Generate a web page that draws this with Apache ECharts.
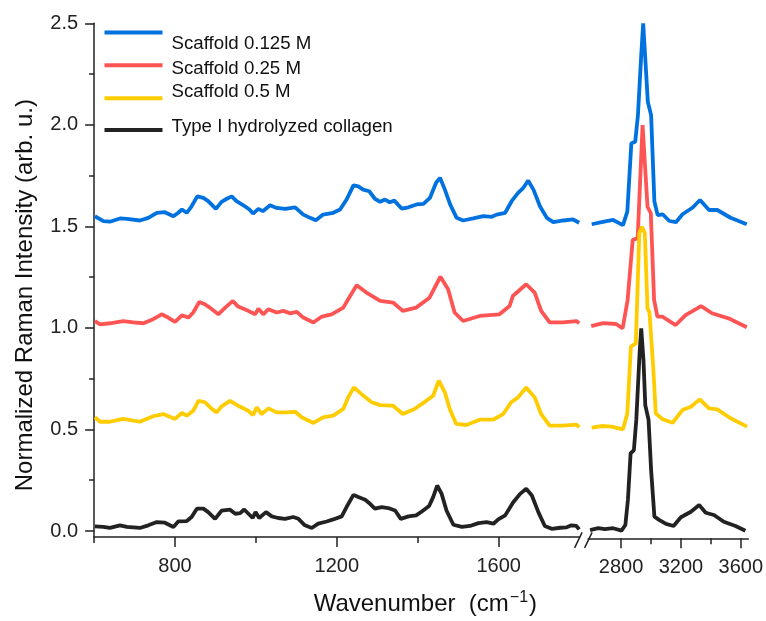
<!DOCTYPE html>
<html><head><meta charset="utf-8">
<script src="https://cdn.jsdelivr.net/npm/echarts@6/dist/echarts.min.js"></script>
<style>html,body{margin:0;padding:0;background:#fff}#c{width:766px;height:621px}</style>
</head><body><div id="c"></div>
<script>
// ---------- data ----------
const seriesNames = ['Scaffold 0.125 M', 'Scaffold 0.25 M', 'Scaffold 0.5 M', 'Type I hydrolyzed collagen'];
const yMajorTicks = [0, 0.5, 1, 1.5, 2, 2.5];
const yMinorTicks = [0.25, 0.75, 1.25, 1.75, 2.25];
const xLeftMajorTicks = [800, 1200, 1600];
const xLeftMinorTicks = [600, 1000, 1400];
const xRightMajorTicks = [2800, 3200, 3600];
const xRightMinorTicks = [3000, 3400];

const blueLeft = [[602,1.550],[623,1.526],[639,1.523],[664,1.539],[681,1.537],[713,1.529],[734,1.542],[755,1.567],[775,1.570],[796,1.550],[808,1.567],[817,1.583],[829,1.567],[841,1.599],[855,1.648],[870,1.640],[882,1.624],[901,1.586],[915,1.621],[928,1.636],[940,1.648],[952,1.624],[969,1.604],[984,1.583],[993,1.563],[1006,1.586],[1017,1.575],[1035,1.604],[1051,1.591],[1072,1.586],[1097,1.594],[1117,1.558],[1134,1.542],[1148,1.530],[1166,1.558],[1191,1.567],[1208,1.583],[1224,1.632],[1241,1.702],[1253,1.697],[1265,1.681],[1280,1.673],[1294,1.636],[1307,1.621],[1319,1.632],[1331,1.619],[1342,1.627],[1360,1.588],[1377,1.594],[1397,1.608],[1414,1.611],[1430,1.640],[1445,1.714],[1455,1.739],[1467,1.681],[1480,1.608],[1496,1.542],[1512,1.529],[1537,1.539],[1562,1.550],[1583,1.547],[1595,1.558],[1616,1.567],[1632,1.624],[1648,1.665],[1661,1.690],[1673,1.725],[1686,1.681],[1702,1.599],[1719,1.542],[1735,1.521],[1760,1.529],[1784,1.534],[1799,1.518]];
const blueRight = [[2604,1.513],[2670,1.523],[2747,1.534],[2813,1.509],[2842,1.575],[2869,1.911],[2895,1.918],[2913,2.049],[2935,2.344],[2948,2.500],[2962,2.328],[2979,2.115],[3001,2.049],[3023,1.624],[3045,1.558],[3078,1.562],[3123,1.529],[3167,1.523],[3211,1.562],[3277,1.594],[3328,1.632],[3388,1.583],[3443,1.583],[3532,1.545],[3640,1.513]];

const redLeft = [[602,1.034],[615,1.018],[639,1.023],[672,1.034],[697,1.027],[722,1.023],[746,1.043],[767,1.067],[783,1.051],[800,1.030],[817,1.062],[833,1.051],[845,1.076],[860,1.128],[874,1.116],[886,1.100],[907,1.067],[924,1.100],[943,1.133],[956,1.105],[981,1.084],[998,1.067],[1006,1.095],[1018,1.067],[1031,1.092],[1051,1.076],[1068,1.084],[1084,1.072],[1101,1.079],[1117,1.051],[1142,1.027],[1163,1.056],[1187,1.067],[1216,1.100],[1228,1.141],[1249,1.210],[1273,1.174],[1307,1.133],[1339,1.125],[1363,1.084],[1396,1.100],[1429,1.149],[1456,1.252],[1475,1.190],[1491,1.076],[1512,1.034],[1553,1.059],[1602,1.067],[1627,1.108],[1635,1.157],[1668,1.215],[1689,1.174],[1705,1.084],[1726,1.027],[1759,1.027],[1792,1.034],[1799,1.023]];
const redRight = [[2601,1.013],[2679,1.027],[2767,1.023],[2811,1.002],[2844,1.141],[2878,1.436],[2911,1.444],[2944,2.000],[2977,1.599],[2999,1.567],[3021,1.141],[3043,1.059],[3076,1.059],[3165,1.018],[3231,1.067],[3335,1.111],[3408,1.076],[3518,1.051],[3640,1.007]];

const yellowLeft = [[602,0.560],[615,0.538],[639,0.538],[672,0.552],[713,0.538],[746,0.565],[771,0.576],[800,0.552],[817,0.581],[829,0.568],[845,0.592],[858,0.641],[874,0.634],[891,0.601],[903,0.584],[915,0.614],[936,0.641],[956,0.617],[981,0.592],[993,0.571],[1002,0.609],[1014,0.576],[1031,0.604],[1051,0.584],[1076,0.584],[1097,0.587],[1113,0.560],[1142,0.532],[1166,0.560],[1191,0.568],[1216,0.601],[1228,0.658],[1242,0.707],[1261,0.674],[1286,0.634],[1307,0.620],[1339,0.617],[1363,0.576],[1392,0.601],[1421,0.641],[1438,0.666],[1452,0.740],[1467,0.683],[1479,0.601],[1495,0.527],[1520,0.522],[1553,0.548],[1586,0.548],[1611,0.576],[1631,0.634],[1648,0.658],[1668,0.707],[1689,0.658],[1705,0.576],[1726,0.519],[1759,0.519],[1792,0.524],[1799,0.511]];
const yellowRight = [[2604,0.514],[2670,0.522],[2736,0.519],[2813,0.506],[2842,0.584],[2866,0.912],[2899,0.928],[2922,1.469],[2939,1.501],[2959,1.470],[2977,1.100],[2990,1.080],[3015,0.813],[3032,0.584],[3078,0.555],[3145,0.538],[3211,0.601],[3267,0.617],[3326,0.653],[3388,0.609],[3443,0.604],[3532,0.560],[3642,0.519]];

const collagenLeft = [[602,0.023],[623,0.020],[639,0.015],[664,0.028],[681,0.020],[713,0.015],[734,0.028],[755,0.044],[775,0.041],[796,0.020],[808,0.047],[829,0.049],[841,0.069],[854,0.110],[870,0.110],[882,0.093],[899,0.060],[915,0.100],[936,0.105],[949,0.085],[961,0.088],[971,0.106],[984,0.080],[992,0.064],[999,0.093],[1008,0.064],[1025,0.093],[1039,0.072],[1055,0.064],[1072,0.060],[1092,0.069],[1105,0.060],[1121,0.028],[1138,0.015],[1154,0.036],[1175,0.047],[1191,0.057],[1212,0.072],[1224,0.118],[1241,0.178],[1253,0.167],[1270,0.154],[1282,0.134],[1294,0.110],[1311,0.118],[1327,0.113],[1344,0.101],[1358,0.060],[1377,0.072],[1396,0.077],[1410,0.096],[1428,0.123],[1438,0.167],[1448,0.224],[1459,0.183],[1471,0.101],[1488,0.031],[1509,0.020],[1529,0.025],[1550,0.039],[1570,0.044],[1587,0.036],[1599,0.057],[1616,0.077],[1636,0.142],[1653,0.183],[1668,0.208],[1682,0.175],[1698,0.093],[1714,0.025],[1731,0.011],[1752,0.016],[1768,0.018],[1780,0.028],[1792,0.025],[1799,0.008]];
const collagenRight = [[2593,0.011],[2648,0.020],[2692,0.016],[2747,0.020],[2803,0.008],[2829,0.036],[2846,0.159],[2864,0.388],[2886,0.404],[2902,0.552],[2924,0.879],[2935,1.002],[2950,0.846],[2962,0.625],[2984,0.552],[3001,0.306],[3023,0.077],[3057,0.060],[3101,0.041],[3151,0.031],[3200,0.074],[3267,0.101],[3322,0.134],[3366,0.096],[3421,0.085],[3487,0.052],[3565,0.031],[3631,0.008]];

// ---------- layout / style ----------
const colors = ['#0072E0', '#FF5454', '#FFCC00', '#222222'];
const leftData = [blueLeft, redLeft, yellowLeft, collagenLeft];
const rightData = [blueRight, redRight, yellowRight, collagenRight];
const G0 = {left: 94.1, top: 23.3, width: 485.5, height: 515};
const G1 = {left: 588.1, top: 23.3, width: 161.4, height: 515};
const Y_MIN = -0.0295, Y_MAX = 2.5;
const AX = '#222';
const titleFont = '"Liberation Sans", Arial, sans-serif';
const tickFont = '"Liberation Sans", Arial, sans-serif';

function xAxisPair(grid, min, max, major, minor, extra) {
  return [Object.assign({
    gridIndex: grid, type: 'value', min: min, max: max, position: 'bottom',
    axisLine: {show: true, onZero: false, lineStyle: {color: AX, width: 1.5}},
    axisTick: {show: true, customValues: major, length: 10, lineStyle: {color: AX, width: 1.5}},
    axisLabel: {show: true, customValues: major, fontFamily: tickFont, fontSize: 20, color: AX, margin: 19,
      formatter: v => String(v)},
    splitLine: {show: false}
  }, extra || {}), {
    gridIndex: grid, type: 'value', min: min, max: max, position: 'bottom',
    axisLine: {show: false, onZero: false},
    axisTick: {show: true, customValues: minor, length: 6, lineStyle: {color: AX, width: 1.5}},
    axisLabel: {show: false}, splitLine: {show: false}
  }];
}

const xAxes = xAxisPair(0, 600, 1800, xLeftMajorTicks, xLeftMinorTicks, {
  name: '{m|Wavenumber}  {m|(cm}{sup|\u22121}{m|)}', nameLocation: 'middle', nameGap: 53,
  nameTextStyle: {fontFamily: titleFont, fontSize: 24, color: '#111', padding: [0, 0, 0, 177],
    rich: {
      m: {fontFamily: titleFont, fontSize: 24, color: '#111'},
      sup: {fontFamily: titleFont, fontSize: 16, color: '#111', padding: [0, 1, 12, 1]}
    }}
}).concat(xAxisPair(1, 2580, 3650, xRightMajorTicks, xRightMinorTicks));

const yAxes = [
  {gridIndex: 0, type: 'value', min: Y_MIN, max: Y_MAX, position: 'left',
   axisLine: {show: true, onZero: false, lineStyle: {color: AX, width: 1.5}},
   axisTick: {show: true, customValues: yMajorTicks, length: 9, lineStyle: {color: AX, width: 1.5}},
   axisLabel: {show: true, customValues: yMajorTicks, fontFamily: tickFont, fontSize: 20, color: AX, margin: 16,
     padding: [3, 0, 0, 0], formatter: v => Number(v).toFixed(1)},
   splitLine: {show: false},
   name: 'Normalized Raman Intensity (arb. u.)', nameLocation: 'middle', nameGap: 57,
   nameTextStyle: {fontFamily: titleFont, fontSize: 24, color: '#111', padding: [0, 30, 0, 0]}},
  {gridIndex: 0, type: 'value', min: Y_MIN, max: Y_MAX, position: 'left',
   axisLine: {show: false, onZero: false},
   axisTick: {show: true, customValues: yMinorTicks, length: 5, lineStyle: {color: AX, width: 1.5}},
   axisLabel: {show: false}, splitLine: {show: false}},
  {gridIndex: 1, type: 'value', min: Y_MIN, max: Y_MAX, show: false}
];

const series = [];
seriesNames.forEach((n, i) => {
  [[leftData[i], 0, 0], [rightData[i], 2, 2]].forEach(([d, xi, yi]) => {
    series.push({
      type: 'line', name: n, data: d, xAxisIndex: xi, yAxisIndex: yi,
      showSymbol: false, symbol: 'none', clip: true, z: 2 + i,
      lineStyle: {color: colors[i], width: 3.8}, itemStyle: {color: colors[i]},
      emphasis: {disabled: true}
    });
  });
});

const legendTops = [12, 52.5, 82.7, 117.5];
const legendPads = [[22, 0, 0, 4], [6.5, 0, 0, 4], [0, 0, 12, 4], [0, 0, 6, 4]];
const legends = seriesNames.map((n, i) => ({
  data: [n], left: 104.5, top: legendTops[i], padding: 0, itemWidth: 58, itemHeight: 4,
  icon: 'rect', itemGap: 0,
  formatter: name => '{t|' + name + '}',
  textStyle: {fontFamily: titleFont, fontSize: 18.7, color: '#111',
    rich: {t: {fontFamily: titleFont, fontSize: 18.7, color: '#111', lineHeight: 20, padding: legendPads[i]}}}
}));

const axisY = G0.top + G0.height;
const brkX = G0.left + G0.width;
const graphic = [
  {type: 'line', shape: {x1: brkX - 5, y1: axisY + 9.5, x2: brkX + 2.5, y2: axisY - 6}, style: {stroke: AX, lineWidth: 1.5}},
  {type: 'line', shape: {x1: brkX + 5, y1: axisY + 9.5, x2: brkX + 12.5, y2: axisY - 6}, style: {stroke: AX, lineWidth: 1.5}}
];

const chart = echarts.init(document.getElementById('c'), null, {renderer: 'canvas'});
chart.setOption({
  animation: false,
  backgroundColor: '#fff',
  grid: [G0, G1],
  xAxis: xAxes,
  yAxis: yAxes,
  legend: legends,
  series: series,
  graphic: graphic
});
</script></body></html>
